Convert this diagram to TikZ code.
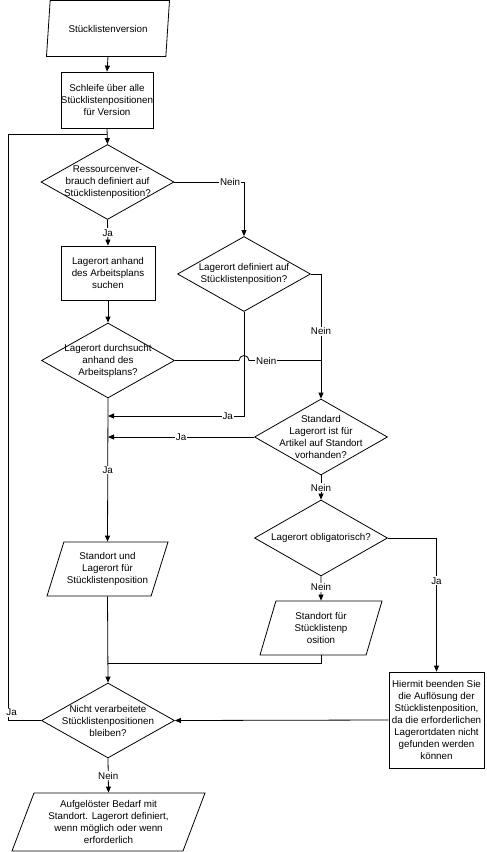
\documentclass[tikz,border=0pt]{standalone}
\usepackage{fontspec}
\setmainfont{Liberation Sans}
\usetikzlibrary{arrows.meta,shapes.geometric}

\begin{document}
\begin{tikzpicture}[x=1pt, y=-1pt, ->, >={Triangle[length=6pt,width=5pt]}, line width=0.8pt,
	every node/.style={font=\fontsize{9.8}{12}\selectfont, align=center},
	proc/.style={rectangle, draw, inner sep=0pt},
	decision/.style={diamond, draw, inner sep=0pt, minimum width=133pt, minimum height=75pt},
	io/.style={trapezium, trapezium left angle=63, trapezium right angle=117, trapezium stretches body, draw, inner sep=0pt, minimum height=54pt},
	lbl/.style={fill=white, inner sep=1pt}]
				\useasboundingbox (0,0) rectangle (487,852);

				\node[io, minimum width=123pt, minimum height=56pt] (in1) at (108,28.5) {St\"ucklistenversion};
				\node[proc, minimum width=92pt, minimum height=56pt] (box1) at (107,100) {Schleife \"uber alle\\St\"ucklistenpositionen\\f\"ur Version};
				\node[decision, label={center:Ressourcenver-\\brauch definiert auf\\St\"ucklistenposition?}] (d1) at (107.5,182) {};
				\node[proc, minimum width=94pt, minimum height=54pt] (b2) at (108,273) {Lagerort anhand\\des Arbeitsplans\\suchen};
				\node[decision, label={center:Lagerort definiert auf\\St\"ucklistenposition?}] (d2) at (244,274) {};
				\node[decision, label={center:Lagerort durchsucht\\anhand des\\Arbeitsplans?}] (d3) at (108,360.5) {};
				\node[decision, minimum height=76pt, label={center:Standard\\Lagerort ist f\"ur\\Artikel auf Standort\\vorhanden?}] (d4) at (321,437) {};
				\node[decision, minimum height=76pt, label={center:Lagerort obligatorisch?}] (d5) at (321,538) {};
				\node[io, minimum width=121pt] (in2) at (107.5,569) {Standort und\\Lagerort f\"ur\\St\"ucklistenposition};
				\node[io, minimum width=122pt] (in3) at (321,628) {Standort f\"ur\\St\"ucklistenp\\osition};
				\node[proc, minimum width=95pt, minimum height=96pt] (b3) at (436.5,720) {Hiermit beenden Sie\\die Aufl\"osung der\\St\"ucklistenposition,\\da die erforderlichen\\Lagerortdaten nicht\\gefunden werden\\k\"onnen};
				\node[decision, label={center:Nicht verarbeitete\\St\"ucklistenpositionen\\bleiben?}] (d6) at (108,720.5) {};
				\node[io, minimum width=193pt, minimum height=58pt] (out) at (108.5,822) {Aufgel\"oster Bedarf mit\\Standort. Lagerort definiert,\\wenn m\"oglich oder wenn\\erforderlich};

				\coordinate (ja1) at (108,416);
				\coordinate (mg) at (108,663);
				\coordinate (loop) at (8,134);

				\path	(in1.south) edge (box1.north)
						(box1.south) edge (d1.north)
						(d1.south) edge node[lbl] {Ja} (b2.north)
						(b2.south) edge (d3.north)
						(d3.south) edge node[lbl] {Ja} (in2.north)
						(d4.west) edge node[lbl] {Ja} (d3.south |- d4.west)
						(d4.south) edge node[lbl] {Nein} (d5.north)
						(d5.south) edge node[lbl, pos=0.45] {Nein} (in3.north)
						(in2.south) edge (d6.north)
						(b3.west) edge (d6.east)
						(d6.south) edge node[lbl] {Nein} (out.north);

				\draw (d1.east) -| node[lbl, pos=0.4] {Nein} (d2.north);
				\draw (d2.east) -| node[lbl, pos=0.73] {Nein} (d4.north);
				\draw (d2.south) |- node[lbl, pos=0.56] {Ja} (ja1);
				\draw (d5.east) -| node[lbl, pos=0.66] {Ja} (b3.north);
				\draw[-] (in3.south) |- (mg);
				% Nein-Linie springt ueber die senkrechte Linie
				\draw[-] (d3.east) -- (239,360.5) arc[start angle=180, end angle=0, radius=5pt] -- node[lbl, pos=0.24] {Nein} (d4.north |- d3.east);
				\draw[-] (d6.west) -| node[lbl, pos=0.507, right, xshift=-3pt] {Ja} (loop) -- (box1.south |- loop);
\end{tikzpicture}
\end{document}
